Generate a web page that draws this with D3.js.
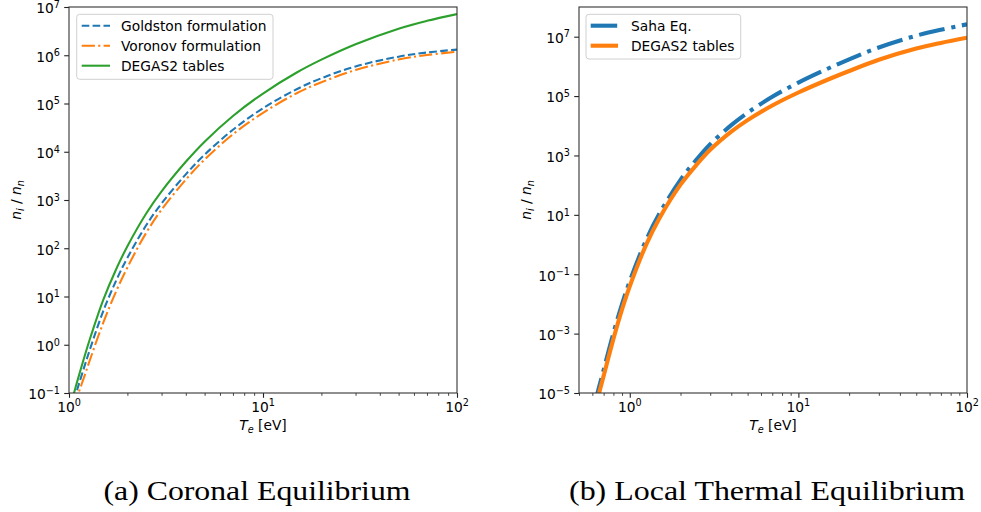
<!DOCTYPE html>
<html>
<head>
<meta charset="utf-8">
<script src="https://cdn.jsdelivr.net/npm/d3@7"></script>
<style>
  body { margin: 0; background: #fff; }
  svg text { font-family: "DejaVu Sans", sans-serif; fill: #000; }
</style>
</head>
<body>
<svg id="fig" width="981" height="512"></svg>
<script>
// ---- (a) Coronal equilibrium: n_i / n_n versus electron temperature ----
const coronalTemps = [1.06, 1.1, 1.2, 1.3, 1.5, 1.75, 2, 2.5, 3, 4, 5, 7, 10, 15, 20, 30, 50, 70, 100];
const goldston = [0.069, 0.114, 0.352, 0.948, 4.94, 21.4, 63.4, 299, 849, 3404, 8690,
                  2.86e4, 7.98e4, 2.00e5, 3.34e5, 5.87e5, 9.35e5, 1.14e6, 1.31e6];
const voronov = [0.051, 0.0805, 0.222, 0.571, 2.84, 12.8, 40.0, 209, 630, 2642, 6902,
                 2.30e4, 6.41e4, 1.65e5, 2.75e5, 4.94e5, 8.15e5, 1.01e6, 1.18e6];
const degas2Coronal = [0.098, 0.168, 0.558, 1.57, 8.39, 36.8, 110, 525, 1510, 6194, 1.62e4,
                       5.52e4, 1.61e5, 4.44e5, 8.11e5, 1.69e6, 3.56e6, 5.16e6, 7.13e6];
const coronalYTickExps = [-1, 0, 1, 2, 3, 4, 5, 6, 7];
const coronalXTickExps = [0, 1, 2];

// ---- (b) Local thermal equilibrium ----
const lteTemps = [0.62, 0.65, 0.7, 0.8, 0.9, 1, 1.25, 1.5, 2, 2.5, 3, 4, 5, 7, 10, 15, 20, 30, 50, 70, 100];
const saha = [4.34e-6, 1.23e-5, 5.98e-5, 1.03e-3, 9.89e-3, 0.0581, 1.41, 11.0, 150, 750, 2399, 1.05e4,
              2.75e4, 9.48e4, 2.85e5, 8.49e5, 1.72e6, 4.34e6, 1.08e7, 1.72e7, 2.60e7];
const degas2LTE = [2.73e-6, 7.74e-6, 3.78e-5, 6.64e-4, 6.53e-3, 0.0393, 0.977, 7.73, 104, 501, 1549, 6310,
                   1.55e4, 4.81e4, 1.32e5, 3.62e5, 7.0e5, 1.67e6, 3.98e6, 6.17e6, 9.23e6];
const lteYTickExps = [-5, -3, -1, 1, 3, 5, 7];
const lteXTickExps = [0, 1, 2];

const captions = ["(a) Coronal Equilibrium", "(b) Local Thermal Equilibrium"];

const C_BLUE = "#1f77b4", C_ORANGE = "#ff7f0e", C_GREEN = "#2ca02c";

const svg = d3.select("#fig");
const FONT = 13.8;

const panels = [
  {
    id: "coronal",
    box: { x0: 69, x1: 457, y0: 7, y1: 393 },
    xDomain: [1, 100], yDomain: [1e-1, 1e7],
    temps: coronalTemps,
    yTicks: coronalYTickExps, xTicks: coronalXTickExps,
    series: [
      { name: "Goldston formulation", values: goldston, color: C_BLUE, width: 2.07, dash: "7.6,3.3" },
      { name: "Voronov formulation", values: voronov, color: C_ORANGE, width: 2.07, dash: "13.2,3.3,2.1,3.3" },
      { name: "DEGAS2 tables", values: degas2Coronal, color: C_GREEN, width: 2.07, dash: null }
    ],
    legend: { x: 76.7, y: 14.3, w: 196.3, h: 65, rowY: [25.7, 45.7, 65.7], hx0: 81.7, hx1: 110, tx: 121 },
    ylabelX: 21, caption: captions[0], captionX: 257, captionW: 307
  },
  {
    id: "lte",
    box: { x0: 579, x1: 967, y0: 7, y1: 393 },
    xDomain: [0.5, 100], yDomain: [1e-5, 1e8],
    temps: lteTemps,
    yTicks: lteYTickExps, xTicks: lteXTickExps,
    series: [
      { name: "Saha Eq.", values: saha, color: C_BLUE, width: 4.1, dash: "26.5,6.6,4.1,6.6" },
      { name: "DEGAS2 tables", values: degas2LTE, color: C_ORANGE, width: 4.1, dash: null }
    ],
    legend: { x: 586, y: 14.3, w: 154.7, h: 44.7, rowY: [25.7, 45.7], hx0: 590.7, hx1: 618, tx: 631 },
    ylabelX: 531, caption: captions[1], captionX: 767, captionW: 396
  }
];

function powLabel(sel, exp, baseSize) {
  sel.append("tspan").text("10");
  sel.append("tspan")
    .attr("dy", -5.6)
    .style("font-size", (baseSize * 0.7) + "px")
    .text(exp < 0 ? "\u2212" + Math.abs(exp) : String(exp));
}

panels.forEach(p => {
  const b = p.box;
  const x = d3.scaleLog().domain(p.xDomain).range([b.x0, b.x1]);
  const y = d3.scaleLog().domain(p.yDomain).range([b.y1, b.y0]);
  const g = svg.append("g").attr("class", "panel-" + p.id);

  // clip region for the curves
  g.append("clipPath").attr("id", "clip-" + p.id)
    .append("rect").attr("x", b.x0).attr("y", b.y0)
    .attr("width", b.x1 - b.x0).attr("height", b.y1 - b.y0);

  // minor x ticks (2..9 in each decade)
  const [lo, hi] = p.xDomain;
  const minor = [];
  for (let e = Math.floor(Math.log10(lo)); e < Math.ceil(Math.log10(hi)); e++) {
    for (let m = 2; m <= 9; m++) {
      const v = m * Math.pow(10, e);
      if (v >= lo && v <= hi) minor.push(v);
    }
  }
  const xMinorAxis = d3.axisBottom(x).tickValues(minor).tickSize(2.8).tickSizeOuter(0).tickFormat("");
  const xMinor = g.append("g").attr("transform", `translate(0,${b.y1})`).call(xMinorAxis);
  xMinor.select(".domain").remove();
  xMinor.selectAll(".tick line").attr("stroke", "#222").attr("stroke-width", 0.85);

  // major x ticks
  const xMajorVals = p.xTicks.map(e => Math.pow(10, e));
  const xMajorAxis = d3.axisBottom(x).tickValues(xMajorVals).tickSize(4.8).tickSizeOuter(0).tickFormat("");
  const xMajor = g.append("g").attr("transform", `translate(0,${b.y1})`).call(xMajorAxis);
  xMajor.select(".domain").remove();
  xMajor.selectAll(".tick line").attr("stroke", "#222").attr("stroke-width", 1.1);
  p.xTicks.forEach(e => {
    const t = g.append("text")
      .attr("x", x(Math.pow(10, e))).attr("y", 411.7)
      .attr("text-anchor", "middle")
      .style("font-size", FONT + "px");
    powLabel(t, e, FONT);
  });

  // major y ticks
  const yVals = p.yTicks.map(e => Math.pow(10, e));
  const yAxis = d3.axisLeft(y).tickValues(yVals).tickSize(4.8).tickSizeOuter(0).tickFormat("");
  const yAx = g.append("g").attr("transform", `translate(${b.x0},0)`).call(yAxis);
  yAx.select(".domain").remove();
  yAx.selectAll(".tick line").attr("stroke", "#222").attr("stroke-width", 1.1);
  p.yTicks.forEach(e => {
    const t = g.append("text")
      .attr("x", b.x0 - 9).attr("y", y(Math.pow(10, e)) + 6.4)
      .attr("text-anchor", "end")
      .style("font-size", FONT + "px");
    powLabel(t, e, FONT);
  });

  // curves
  const line = d3.line()
    .x(d => x(d[0]))
    .y(d => y(d[1]))
    .curve(d3.curveCatmullRom.alpha(0.5));
  const curves = g.append("g").attr("clip-path", `url(#clip-${p.id})`);
  p.series.forEach(s => {
    const pts = p.temps.map((t, i) => [t, s.values[i]]);
    curves.append("path")
      .attr("d", line(pts))
      .attr("fill", "none")
      .attr("stroke", s.color)
      .attr("stroke-width", s.width)
      .attr("stroke-dasharray", s.dash)
      .attr("stroke-linejoin", "round");
  });

  // axes frame
  g.append("rect")
    .attr("x", b.x0).attr("y", b.y0)
    .attr("width", b.x1 - b.x0).attr("height", b.y1 - b.y0)
    .attr("fill", "none").attr("stroke", "#333").attr("stroke-width", 1.1);

  // legend
  const L = p.legend;
  const lg = g.append("g").attr("class", "legend");
  lg.append("rect")
    .attr("x", L.x).attr("y", L.y).attr("width", L.w).attr("height", L.h)
    .attr("rx", 3).attr("ry", 3)
    .attr("fill", "#fff").attr("fill-opacity", 0.8)
    .attr("stroke", "#d0d0d0").attr("stroke-width", 1);
  p.series.forEach((s, i) => {
    lg.append("line")
      .attr("x1", L.hx0).attr("x2", L.hx1)
      .attr("y1", L.rowY[i]).attr("y2", L.rowY[i])
      .attr("stroke", s.color).attr("stroke-width", s.width)
      .attr("stroke-dasharray", s.dash);
    lg.append("text")
      .attr("x", L.tx).attr("y", L.rowY[i] + 5)
      .style("font-size", FONT + "px")
      .text(s.name);
  });

  // x axis label: T_e [eV]
  const cx = (b.x0 + b.x1) / 2;
  const xl = g.append("text")
    .attr("x", cx).attr("y", 430)
    .attr("text-anchor", "middle")
    .style("font-size", FONT + "px");
  xl.append("tspan").style("font-style", "italic").text("T");
  xl.append("tspan").attr("dy", 2.8).style("font-style", "italic").style("font-size", (FONT * 0.7) + "px").text("e");
  xl.append("tspan").attr("dy", -2.8).text(" [eV]");

  // y axis label: n_i / n_n
  const cy = (b.y0 + b.y1) / 2;
  const yl = g.append("text")
    .attr("transform", `translate(${p.ylabelX},${cy}) rotate(-90)`)
    .attr("text-anchor", "middle")
    .style("font-size", FONT + "px");
  yl.append("tspan").style("font-style", "italic").text("n");
  yl.append("tspan").attr("dy", 2.8).style("font-style", "italic").style("font-size", (FONT * 0.7) + "px").text("i");
  yl.append("tspan").attr("dy", -2.8).text(" / ");
  yl.append("tspan").style("font-style", "italic").text("n");
  yl.append("tspan").attr("dy", 2.8).style("font-style", "italic").style("font-size", (FONT * 0.7) + "px").text("n");

  // sub-figure caption
  svg.append("text")
    .attr("x", p.captionX).attr("y", 500)
    .attr("text-anchor", "middle")
    .attr("textLength", p.captionW)
    .attr("lengthAdjust", "spacingAndGlyphs")
    .style("font-family", "'Liberation Serif', 'DejaVu Serif', serif")
    .style("font-size", "28px")
    .text(p.caption);
});
</script>
</body>
</html>
